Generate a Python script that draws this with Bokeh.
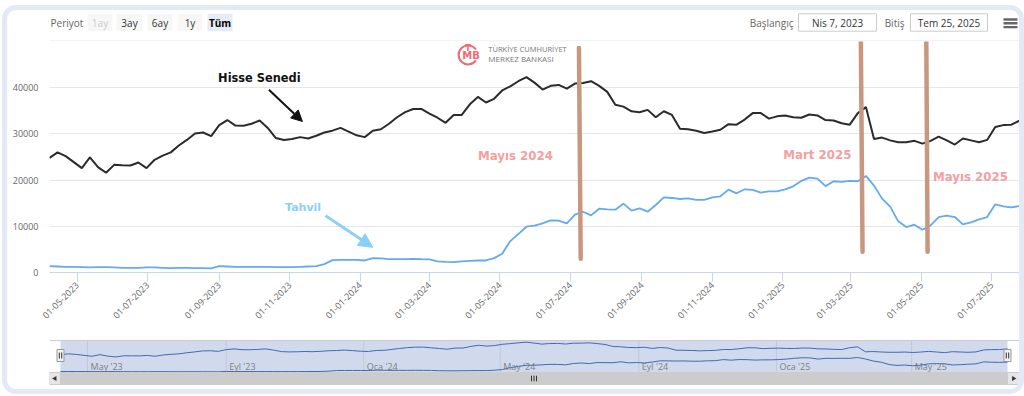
import math
import numpy as np
import pandas as pd
from bokeh.plotting import figure
from bokeh.layouts import column
from bokeh.models import Range1d, FixedTicker, DatetimeTickFormatter, Arrow, NormalHead
from bokeh.core.properties import value
from bokeh.embed import file_html
from bokeh.resources import INLINE

# ---------------- data ----------------
start_date = "2023-04-07"
end_date = "2025-07-25"
dates = pd.date_range(start_date, end_date, freq="7D")

hisse_senedi = [
    24800, 26000, 25200, 23900, 22600, 24900, 22800, 21600, 23300, 23200,
    23150, 23800, 22600, 24400, 25300, 26000, 27500, 28700, 30100, 30300,
    29500, 31900, 33000, 31800, 31750, 32200, 32900, 31300, 29100, 28700,
    28900, 29300, 29000, 29600, 30300, 30700, 31300, 30500, 29700, 29300,
    30700, 31000, 32200, 33600, 34700, 35400, 35400, 34400, 33500, 32400,
    34100, 34100, 36400, 38000, 36800, 37600, 39400, 40300, 41400, 42300,
    41100, 39600, 40400, 40600, 39800, 40900, 41000, 41400, 40400, 39100,
    36300, 35900, 34900, 34700, 35200, 33600, 34900, 34100, 31100, 31000,
    30700, 30200, 30500, 30900, 32100, 32000, 33100, 34500, 34500, 33300,
    33800, 34000, 33600, 33500, 34200, 34000, 33000, 32900, 32300, 32000,
    34500, 35800, 28900, 29200, 28600, 28200, 28200, 28500, 27900, 28500,
    29400, 28600, 27700, 29000, 28600, 28200, 28700, 31500, 31900, 32000,
    32900,
]

tahvil = [
    1370, 1300, 1230, 1230, 1160, 1090, 1160, 1160, 1090, 1020,
    1020, 1020, 1090, 1090, 1020, 950, 1020, 1020, 950, 950,
    880, 1370, 1300, 1230, 1230, 1200, 1200, 1200, 1160, 1160,
    1160, 1230, 1300, 1370, 1810, 2680, 2750, 2750, 2750, 2600,
    3110, 3040, 2890, 2890, 2890, 2970, 2890, 2820, 2390, 2310,
    2240, 2390, 2530, 2600, 2600, 3110, 4050, 6800, 8320, 9910,
    10130, 10630, 11280, 11210, 10630, 12510, 13160, 12370, 13810, 13670,
    13600, 14900, 13380, 13890, 13160, 14610, 16270, 16130, 15910, 16060,
    15700, 15700, 16270, 16490, 17940, 17140, 18010, 17870, 17290, 17580,
    17580, 18010, 18660, 19820, 20540, 20320, 18700, 19750, 19600, 19820,
    19750, 20900, 18810, 15990, 14250, 11070, 9840, 10340, 9260, 10200,
    12010, 12300, 12010, 10420, 10850, 11500, 12010, 14760, 14320, 14100,
    14390,
]

y_ticks = [0, 10000, 20000, 30000, 40000, 50000]
x_tick_dates = ["2023-05-01", "2023-07-01", "2023-09-01", "2023-11-01",
                "2024-01-01", "2024-03-01", "2024-05-01", "2024-07-01",
                "2024-09-01", "2024-11-01", "2025-01-01", "2025-03-01",
                "2025-05-01", "2025-07-01"]
nav_tick_dates = ["2023-05-01", "2023-09-01", "2024-01-01", "2024-05-01",
                  "2024-09-01", "2025-01-01", "2025-05-01"]
nav_tick_labels = ["May '23", "Eyl '23", "Oca '24", "May '24",
                   "Eyl '24", "Oca '25", "May '25"]

period_buttons = ["1ay", "3ay", "6ay", "1y", "Tüm"]
range_labels = ["Başlangıç", "Bitiş"]
range_values = ["Nis 7, 2023", "Tem 25, 2025"]

series_labels = ["Hisse Senedi", "Tahvil"]
event_labels = ["Mayıs 2024", "Mart 2025", "Mayıs 2025"]
event_label_dates = ["2024-04-12", "2025-01-01T10:00", "2025-05-11"]
event_label_values = [25170, 25540, 20620]
event_top_dates = ["2024-07-08T12:00", "2025-03-09T14:00", "2025-05-05T07:00"]
event_bottom_dates = ["2024-07-10", "2025-03-11T02:00", "2025-05-06T10:00"]
event_top_values = [48620, 50600, 50600]
event_bottom_values = [2990, 4510, 4510]

logo_lines = ["TÜRKİYE CUMHURİYET", "MERKEZ BANKASI"]


def ms(s):
    return pd.Timestamp(s).value / 1e6


W = 1012          # content width (inside the card border)
LB = 42           # left border of plot frames
FX0, FX1 = 49, 1019   # page x of the plot frames
UI = value("Open Sans")
ANN = value("DejaVu Sans")

# ---------------- header ----------------
HH = 31
hdr = figure(width=W, height=HH, x_range=Range1d(FX0, FX1), y_range=Range1d(HH, 0),
             x_axis_location=None, y_axis_location=None, toolbar_location=None,
             output_backend="svg", min_border_left=LB, min_border_right=0,
             min_border_top=0, min_border_bottom=0, outline_line_color=None)
hdr.grid.visible = False
TY = 12.2
hdr.text(x=[50], y=[TY], text=["Periyot"], text_font=UI, text_font_size="10px",
         text_color="#666666", text_baseline="middle", text_align="left")
btn_left = [87, 116, 147, 177, 207]
btn_right = [112, 142, 172, 202, 232]
hdr.quad(left=btn_left, right=btn_right, top=3.3, bottom=20.7,
         fill_color=["#f7f7f7", "#f7f7f7", "#f7f7f7", "#f7f7f7", "#e6ebf5"], line_color=None)
btn_cx = [(a + b) / 2 for a, b in zip(btn_left, btn_right)]
hdr.text(x=btn_cx[:4], y=[TY] * 4, text=period_buttons[:4], text_font=UI,
         text_font_size="10px", text_color=["#cccccc", "#333333", "#333333", "#333333"],
         text_baseline="middle", text_align="center")
hdr.text(x=btn_cx[4:], y=[TY], text=period_buttons[4:], text_font=UI,
         text_font_size="10px", text_font_style="bold", text_color="#000000",
         text_baseline="middle", text_align="center")
hdr.text(x=[793, 904], y=[TY, TY], text=range_labels, text_font=UI,
         text_font_size="10px", text_color="#666666", text_baseline="middle", text_align="right")
box_left = [798, 910]
box_right = [876, 987]
hdr.quad(left=box_left, right=box_right, top=3.3, bottom=20.7, fill_color="white",
         line_color="#cccccc", line_width=1)
hdr.text(x=[(a + b) / 2 for a, b in zip(box_left, box_right)], y=[TY, TY],
         text=range_values, text_font=UI, text_font_size="10px", text_color="#333333",
         text_baseline="middle", text_align="center")
hdr.segment(x0=[1003, 1003, 1003], x1=[1017, 1017, 1017], y0=[9, 12.8, 16.6],
            y1=[9, 12.8, 16.6], line_color="#666666", line_width=2.4)
hdr.segment(x0=[FX0], x1=[FX1], y0=[HH - 0.5], y1=[HH - 0.5], line_color="#e6e6e6", line_width=1)

# ---------------- main chart ----------------
p = figure(width=W, height=289, x_axis_type="datetime",
           x_range=Range1d(pd.Timestamp(start_date), pd.Timestamp(end_date)),
           y_range=Range1d(0, 50000), toolbar_location=None, output_backend="svg",
           min_border_left=LB, min_border_right=0, min_border_top=0, min_border_bottom=58,
           outline_line_color=None)
p.xgrid.visible = False
p.ygrid.grid_line_color = "#e6e6e6"
p.yaxis.ticker = FixedTicker(ticks=y_ticks)
p.yaxis.major_label_overrides = {50000: ""}
p.yaxis.axis_line_color = None
p.yaxis.major_tick_line_color = None
p.yaxis.minor_tick_line_color = None
p.yaxis.major_tick_out = 0
p.yaxis.major_tick_in = 0
p.yaxis.minor_tick_out = 0
p.yaxis.major_label_standoff = 11
p.yaxis.major_label_text_font = "Open Sans"
p.yaxis.major_label_text_font_size = "9px"
p.yaxis.major_label_text_color = "#666666"

p.xaxis.ticker = FixedTicker(ticks=[ms(d) for d in x_tick_dates])
fmt = "%d-%m-%Y"
p.xaxis.formatter = DatetimeTickFormatter(days=fmt, months=fmt, years=fmt, hours=fmt,
                                          hourmin=fmt, minutes=fmt, strip_leading_zeros=False)
p.xaxis.major_label_orientation = math.pi / 4
p.xaxis.axis_line_color = "#ccd6eb"
p.xaxis.major_tick_line_color = "#ccd6eb"
p.xaxis.major_tick_out = 9
p.xaxis.major_tick_in = 0
p.xaxis.minor_tick_line_color = None
p.xaxis.major_label_standoff = 2
p.xaxis.major_label_text_font = "Open Sans"
p.xaxis.major_label_text_font_size = "9px"
p.xaxis.major_label_text_color = "#666666"

# logo watermark
p.arc(x=[ms("2024-04-03T12:00")], y=[47100], radius=9.5, radius_units="screen",
      start_angle=math.radians(35), end_angle=math.radians(325),
      line_color="#ee6b74", line_width=2)
p.text(x=[ms("2024-04-06")], y=[46900], text=["MB"], text_font=ANN, text_font_style="bold",
       text_font_size="10px", text_color="#ee6b74", text_baseline="middle", text_align="center")
p.text(x=[ms("2024-04-03T12:00")], y=[48400], text=["T"], text_font=ANN, text_font_style="bold",
       text_font_size="8px", text_color="#ee6b74", text_baseline="middle", text_align="center")
p.text(x=[ms("2024-04-21")] * 2, y=[48300, 46280], text=logo_lines, text_font=UI,
       text_font_size=["7.5px", "8px"], text_color="#777777", text_baseline="middle",
       text_align="left")

# series
p.line(dates, tahvil, line_color="#64aaf0", line_width=1.8)
p.line(dates, hisse_senedi, line_color="#2b2b2b", line_width=2)

# event markers
p.segment(x0=[ms(d) for d in event_top_dates], y0=event_top_values,
          x1=[ms(d) for d in event_bottom_dates], y1=event_bottom_values,
          line_color="#c9967f", line_width=4.5, line_cap="round")
p.text(x=[ms(d) for d in event_label_dates], y=event_label_values, text=event_labels,
       text_font=ANN, text_font_style="bold", text_font_size="11.8px",
       text_color="#f4a0a0", text_baseline="middle", text_align="left")

# series annotations
p.text(x=[ms("2023-08-31")], y=[42010], text=series_labels[:1], text_font=ANN,
       text_font_style="bold", text_font_size="11.4px", text_color="#111111",
       text_baseline="middle", text_align="left")
p.text(x=[ms("2023-10-28")], y=[14050], text=series_labels[1:], text_font=ANN,
       text_font_style="bold", text_font_size="11px", text_color="#8ccff5",
       text_baseline="middle", text_align="left")
p.add_layout(Arrow(end=NormalHead(size=11, fill_color="#111111", line_color="#111111"),
                   x_start=ms("2023-10-14"), y_start=39560, x_end=ms("2023-11-12"), y_end=32690,
                   line_color="#111111", line_width=2))
p.add_layout(Arrow(end=NormalHead(size=14, fill_color="#8ccff5", line_color="#8ccff5"),
                   x_start=ms("2023-12-02"), y_start=12310, x_end=ms("2024-01-12"), y_end=5440,
                   line_color="#8ccff5", line_width=3))

# ---------------- navigator + scrollbar ----------------
NH = 59
nav_frame_w = FX1 - FX0
span_ms = ms(end_date) - ms(start_date)
inset_l, inset_r = 11, 12
mpp = span_ms / (nav_frame_w - inset_l - inset_r)
d0, d1 = ms(start_date), ms(end_date)
nav_x0 = d0 - inset_l * mpp
nav_x1 = d1 + inset_r * mpp
NAV_TOP, NAV_BOT, SB_BOT = 10, 42, 54

nav = figure(width=W, height=NH, x_axis_type="datetime", x_range=Range1d(nav_x0, nav_x1),
             y_range=Range1d(NH, 0), x_axis_location=None, y_axis_location=None,
             toolbar_location=None, output_backend="svg", min_border_left=LB,
             min_border_right=0, min_border_top=0, min_border_bottom=0,
             outline_line_color=None)
nav.grid.visible = False
vmin = float(min(np.min(hisse_senedi), np.min(tahvil)))
vmax = float(max(np.max(hisse_senedi), np.max(tahvil)))
hi_px, lo_px = 11.7, 41.3
per_px = (vmax - vmin) / (lo_px - hi_px)
nav.extra_y_ranges = {"nav": Range1d(vmin - (NH - lo_px) * per_px, vmax + hi_px * per_px)}

nav_ticks_ms = [ms(d) for d in nav_tick_dates]
nav.segment(x0=nav_ticks_ms, x1=nav_ticks_ms, y0=NAV_TOP, y1=NAV_BOT,
            line_color="#e6e6e6", line_width=1)
nav.line(dates, hisse_senedi, line_color="#335cad", line_width=1, y_range_name="nav")
nav.line(dates, tahvil, line_color="#335cad", line_width=1, y_range_name="nav")
nav.quad(left=[d0], right=[d1], top=NAV_TOP, bottom=NAV_BOT, fill_color="#6685c2",
         fill_alpha=0.3, line_color=None)
nav.text(x=nav_ticks_ms, y=[36] * len(nav_ticks_ms), text=nav_tick_labels, x_offset=3,
         text_font=UI, text_font_size="9px", text_color="#7f7f7f",
         text_baseline="middle", text_align="left")
nav.segment(x0=[nav_x0], x1=[nav_x1], y0=[NAV_TOP], y1=[NAV_TOP],
            line_color="#cccccc", line_width=1)
# scrollbar
nav.quad(left=[d0], right=[d1], top=NAV_BOT, bottom=SB_BOT, fill_color="#cccccc",
         line_color="#cccccc")
nav.quad(left=[nav_x0, d1], right=[d0, nav_x1], top=NAV_BOT, bottom=SB_BOT,
         fill_color="#e6e6e6", line_color="#cccccc")
sb_mid_y = (NAV_BOT + SB_BOT) / 2
nav.scatter(x=[(nav_x0 + d0) / 2, (d1 + nav_x1) / 2], y=[sb_mid_y, sb_mid_y],
            marker="triangle", size=5, angle=[math.pi / 2, -math.pi / 2],
            fill_color="#333333", line_color=None)
mid = (d0 + d1) / 2
grip_x = [mid - 2.5 * mpp, mid, mid + 2.5 * mpp]
nav.segment(x0=grip_x, x1=grip_x, y0=sb_mid_y - 2.8, y1=sb_mid_y + 2.8,
            line_color="#333333", line_width=1)
# handles
nav.quad(left=[d0 - 3.5 * mpp, d1 - 3.5 * mpp], right=[d0 + 3.5 * mpp, d1 + 3.5 * mpp],
         top=19, bottom=31, fill_color="#f2f2f2", line_color="#999999")
hx = [d0 - 1.2 * mpp, d0 + 1.2 * mpp, d1 - 1.2 * mpp, d1 + 1.2 * mpp]
nav.segment(x0=hx, x1=hx, y0=22.0, y1=28.0, line_color="#333333", line_width=1)

layout = column(hdr, p, nav, styles={"border": "5px solid #e3e9f5",
                                     "border-radius": "14px", "overflow": "hidden",
                                     "background-color": "white",
                                     "margin-left": "2px", "margin-top": "5px"})

open("out.html", "w").write(file_html(layout, INLINE, title="Hisse Senedi ve Tahvil"))
